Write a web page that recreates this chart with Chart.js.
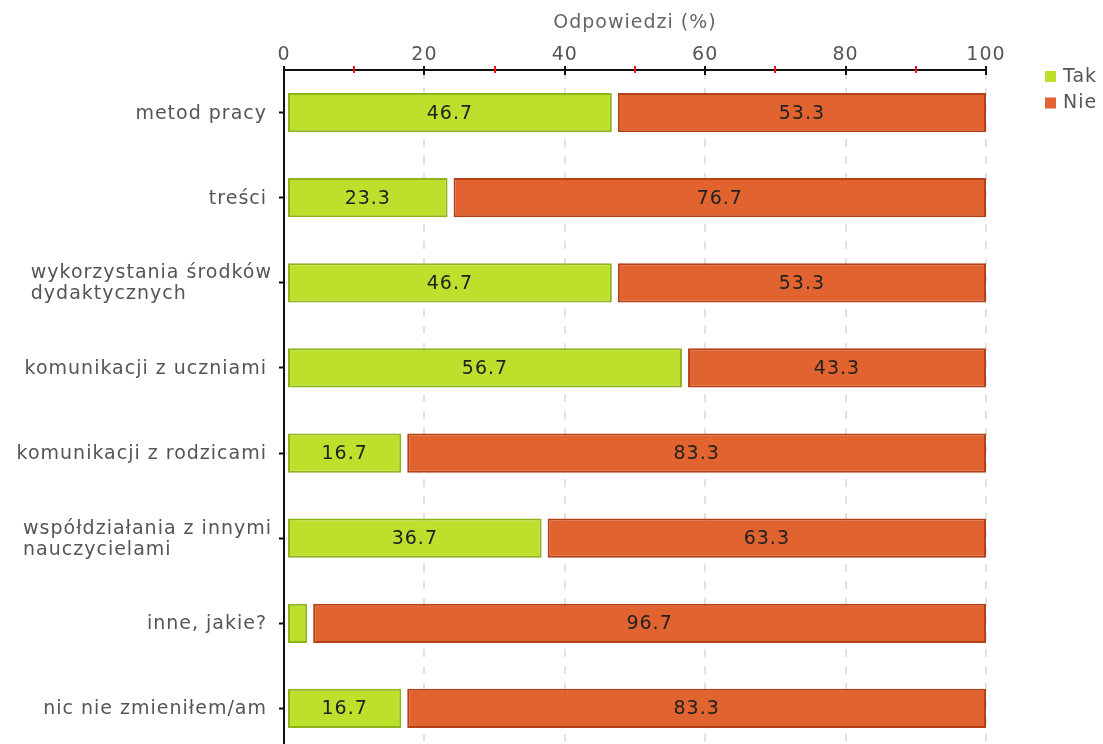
<!DOCTYPE html>
<html>
<head>
<meta charset="utf-8">
<script src="https://cdn.jsdelivr.net/npm/chart.js@4.4.0/dist/chart.umd.min.js"></script>
<style>
    html, body { margin: 0; padding: 0; background: #fff; overflow: hidden; }
    .w { position: relative; width: 1103px; height: 751px; }
</style>
</head>
<body>
<div class="w"><canvas id="chart"></canvas></div>
<script>
    const categories = [
        'metod pracy',
        'treści',
        ['wykorzystania środków', 'dydaktycznych'],
        'komunikacji z uczniami',
        'komunikacji z rodzicami',
        ['współdziałania z innymi', 'nauczycielami'],
        'inne, jakie?',
        'nic nie zmieniłem/am'
    ];
    const takValues = [46.7, 23.3, 46.7, 56.7, 16.7, 36.7, 3.3, 16.7];
    const nieValues = [53.3, 76.7, 53.3, 43.3, 83.3, 63.3, 96.7, 83.3];
    const seriesNames = ['Tak', 'Nie'];
    const axisTitle = 'Odpowiedzi (%)';

    const FONT = 'DejaVu Sans';
    const fills = ['#bde02d', '#e06330'];
    const borders = ['#8fb31a', '#b53f16'];

    Chart.defaults.font.family = FONT;
    Chart.defaults.font.size = 19;
    Chart.defaults.color = '#555';

    // small gap between the two parts of a bar, like in the original
    const barGap = {
        id: 'barGap',
        afterDatasetsUpdate(chart) {
            chart.getDatasetMeta(0).data.forEach(b => { b.base += 3; });
            chart.getDatasetMeta(1).data.forEach(b => { b.base += 6; });
        }
    };

    const spacing = {
        id: 'spacing',
        beforeDraw(chart) { chart.ctx.letterSpacing = '1px'; }
    };

    const valueLabels = {
        id: 'valueLabels',
        afterDatasetsDraw(chart) {
            const ctx = chart.ctx;
            ctx.save();
            ctx.letterSpacing = '1px';
            ctx.font = '19px "' + FONT + '"';
            ctx.fillStyle = '#222';
            ctx.textAlign = 'center';
            ctx.textBaseline = 'middle';
            chart.data.datasets.forEach((ds, di) => {
                chart.getDatasetMeta(di).data.forEach((bar, i) => {
                    const w = Math.abs(bar.x - bar.base);
                    if (w < 40) return;
                    ctx.fillText(ds.data[i].toFixed(1), (bar.x + bar.base) / 2, bar.y + 1);
                });
            });
            ctx.restore();
        }
    };

    const catLabels = {
        id: 'catLabels',
        afterDraw(chart) {
            const ctx = chart.ctx;
            const ys = chart.scales.y;
            ctx.save();
            ctx.letterSpacing = '1px';
            ctx.font = '19px "' + FONT + '"';
            ctx.fillStyle = '#555';
            ctx.textAlign = 'left';
            ctx.textBaseline = 'middle';
            categories.forEach((c, i) => {
                const lines = Array.isArray(c) ? c : [c];
                const maxW = Math.max(...lines.map(l => ctx.measureText(l).width));
                const x0 = ys.right - (lines.length > 1 ? 12 : 17) - maxW;
                const cy = ys.getPixelForTick(i);
                lines.forEach((l, k) => {
                    ctx.fillText(l, x0, cy + 1 + (k - (lines.length - 1) / 2) * 21);
                });
            });
            ctx.restore();
        }
    };

    const axisTicks = {
        id: 'axisTicks',
        afterDraw(chart) {
            const ctx = chart.ctx;
            const xs = chart.scales.x;
            const y0 = xs.bottom;
            const vals = xs.ticks.map(t => t.value);
            ctx.save();
            ctx.lineWidth = 2;
            ctx.strokeStyle = '#ff1010';
            for (let i = 0; i < vals.length - 1; i++) {
                const px = Math.round(xs.getPixelForValue((vals[i] + vals[i + 1]) / 2));
                ctx.beginPath(); ctx.moveTo(px, y0 - 4); ctx.lineTo(px, y0 + 3); ctx.stroke();
            }
            ctx.strokeStyle = '#111';
            vals.forEach(v => {
                const px = Math.round(xs.getPixelForValue(v));
                ctx.beginPath(); ctx.moveTo(px, y0 - 4); ctx.lineTo(px, y0 + 5); ctx.stroke();
            });
            ctx.restore();
        }
    };

    const sideLegend = {
        id: 'sideLegend',
        afterDraw(chart) {
            const ctx = chart.ctx;
            const x = chart.chartArea.right + 59;
            ctx.save();
            ctx.letterSpacing = '1px';
            ctx.font = '19px "' + FONT + '"';
            ctx.textAlign = 'left';
            ctx.textBaseline = 'middle';
            seriesNames.forEach((name, i) => {
                const cy = chart.chartArea.top + 6 + i * 26.5;
                ctx.fillStyle = fills[i];
                ctx.fillRect(x, cy - 5, 11, 11);
                ctx.fillStyle = '#555';
                ctx.fillText(name, x + 18, cy + 1);
            });
            ctx.restore();
        }
    };

    new Chart(document.getElementById('chart'), {
        type: 'bar',
        data: {
            labels: categories,
            datasets: [
                { label: seriesNames[0], data: takValues, backgroundColor: fills[0], borderColor: borders[0] },
                { label: seriesNames[1], data: nieValues, backgroundColor: fills[1], borderColor: borders[1] }
            ]
        },
        options: {
            indexAxis: 'y',
            responsive: true,
            maintainAspectRatio: false,
            animation: false,
            layout: { padding: { left: 0, right: 117, top: 0, bottom: 0 } },
            datasets: {
                bar: {
                    borderWidth: 2,
                    borderSkipped: false,
                    barPercentage: 0.46,
                    categoryPercentage: 1
                }
            },
            scales: {
                x: {
                    position: 'top',
                    stacked: true,
                    min: 0,
                    max: 100,
                    ticks: { stepSize: 20, padding: 4, color: '#555' },
                    grid: { color: '#e2e2e2', lineWidth: 2, drawTicks: false },
                    border: { color: '#111', width: 2, dash: [8, 9] },
                    title: { display: true, text: axisTitle, color: '#666', padding: { top: 12, bottom: 0 } },
                    afterFit(scale) { scale.height = 70; }
                },
                y: {
                    stacked: true,
                    ticks: { display: false },
                    grid: { offset: false, drawOnChartArea: false, drawTicks: true, tickLength: 5, tickColor: '#111', tickWidth: 2 },
                    border: { color: '#111', width: 2 },
                    afterFit(scale) { scale.width = 284; }
                }
            },
            plugins: {
                legend: { display: false },
                tooltip: { enabled: false }
            }
        },
        plugins: [barGap, spacing, valueLabels, catLabels, axisTicks, sideLegend]
    });
</script>
</body>
</html>
